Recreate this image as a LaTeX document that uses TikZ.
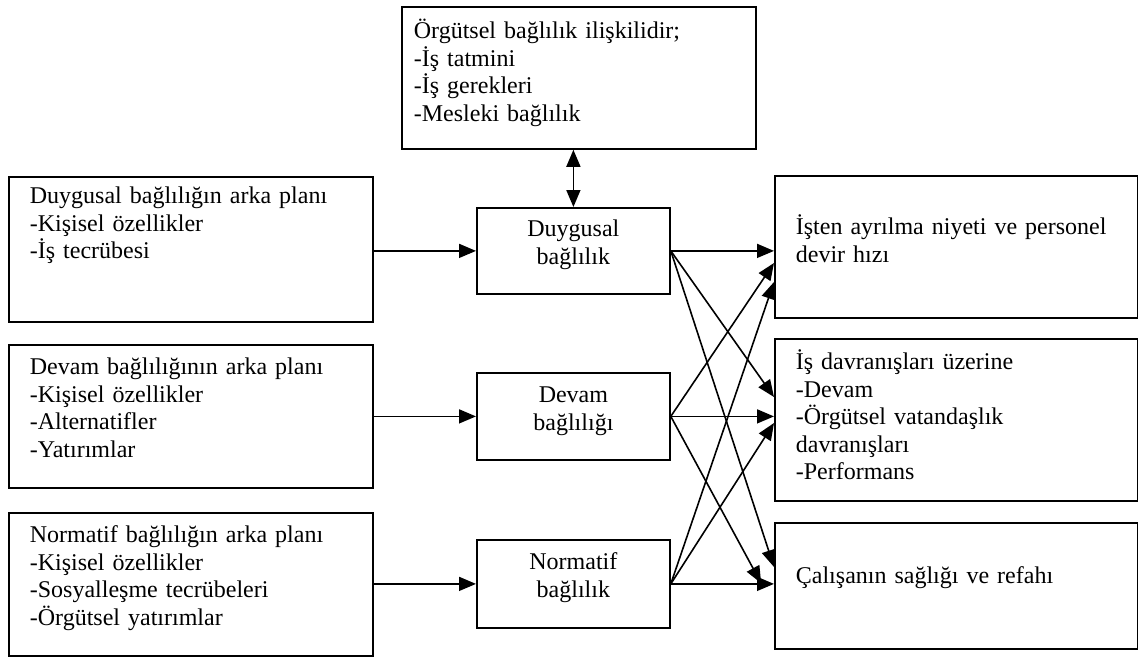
\documentclass[tikz,border=0pt]{standalone}
\usepackage{fontspec}
\setmainfont{Liberation Serif}
\usetikzlibrary{arrows.meta}
\newcommand{\boxfont}{\fontsize{24}{27.5}\selectfont}
\tikzset{
	mybox/.style={
		draw,
		line width=1.8pt,
		anchor=north west,
		inner ysep=0pt,
		inner xsep=21pt,
		align=left,
		font=\boxfont
	},
	midbox/.style={
		mybox,
		inner xsep=10pt,
		text width=173pt,
		align=center
	},
	myarrow/.style={
		line width=1.6pt,
		-{Triangle[length=17pt,width=14pt]}
	}
}

\begin{document}
\begin{tikzpicture}[x=1pt,y=-1pt]
			\useasboundingbox (0,0) rectangle (1138,658);
			\node[mybox, inner xsep=12pt, text width=330pt, text height=32pt, text depth=110pt] (orgut) at (401,6) {Örgütsel bağlılık ilişkilidir;\\-İş tatmini\\-İş gerekleri\\-Mesleki bağlılık};
			\node[mybox, text width=322pt, text height=27pt, text depth=118pt] (duyArka) at (8,176) {Duygusal bağlılığın arka planı\\-Kişisel özellikler\\-İş tecrübesi};
			\node[mybox, text width=322pt, text height=30pt, text depth=113pt] (devArka) at (8,344) {Devam bağlılığının arka planı\\-Kişisel özellikler\\-Alternatifler\\-Yatırımlar};
			\node[mybox, text width=322pt, text height=30pt, text depth=113pt] (norArka) at (8,512) {Normatif bağlılığın arka planı\\-Kişisel özellikler\\-Sosyalleşme tecrübeleri\\-Örgütsel yatırımlar};
			\node[midbox, text height=29pt, text depth=57pt] (duyB) at (476,207) {Duygusal\\bağlılık};
			\node[midbox, text height=30pt, text depth=57pt] (devB) at (476,372) {Devam\\bağlılığı};
			\node[midbox, text height=30pt, text depth=58pt] (norB) at (476,539) {Normatif\\bağlılık};
			\node[mybox, text width=321pt, text height=59pt, text depth=83pt] (isten) at (774,175) {İşten ayrılma niyeti ve personel\\devir hızı};
			\node[mybox, text width=321pt, text height=31pt, text depth=131pt] (isDav) at (774,338) {İş davranışları üzerine\\-Devam\\-Örgütsel vatandaşlık\\davranışları\\-Performans};
			\node[mybox, text width=321pt, text height=61pt, text depth=65pt] (calis) at (774,522) {Çalışanın sağlığı ve refahı};
			
			\draw[myarrow, {Triangle[length=17pt,width=14pt]}-{Triangle[length=17pt,width=14pt]}] (duyB.north |- orgut.south) -- (duyB.north);
			\draw[myarrow] (duyArka.east |- duyB.west) -- (duyB.west);
			\draw[myarrow] (devArka.east |- devB.west) -- (devB.west);
			\draw[myarrow] (norArka.east |- norB.west) -- (norB.west);
			
			\draw[myarrow] (duyB.east) -- (isten.west |- duyB.east);
			\draw[myarrow] (duyB.east) -- ([yshift=-59pt]isDav.north west);
			\draw[myarrow] (duyB.east) -- ([yshift=-45pt]calis.north west);
			\draw[myarrow] (devB.east) -- ([yshift=-88pt]isten.north west);
			\draw[myarrow] (devB.east) -- (isDav.west |- devB.east);
			\draw[myarrow, shorten >=27pt] (devB.east) -- ([yshift=-85pt]calis.north west);
			\draw[myarrow] (norB.east) -- ([yshift=-107pt]isten.north west);
			\draw[myarrow] (norB.east) -- ([yshift=-85pt]isDav.north west);
			\draw[myarrow] (norB.east) -- (calis.west |- norB.east);
			
		\end{tikzpicture}
\end{document}
